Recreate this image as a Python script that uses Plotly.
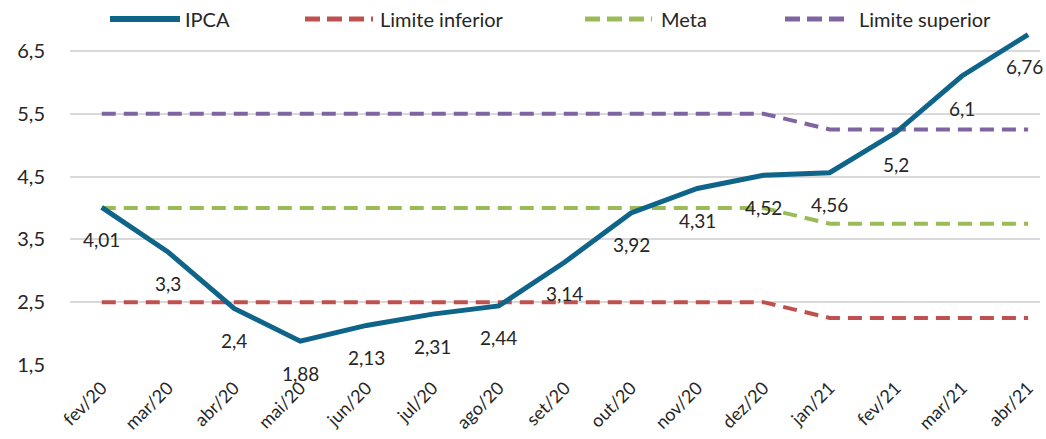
import plotly.graph_objects as go

meses = ["fev/20", "mar/20", "abr/20", "mai/20", "jun/20", "jul/20", "ago/20",
         "set/20", "out/20", "nov/20", "dez/20", "jan/21", "fev/21", "mar/21", "abr/21"]
ipca = [4.01, 3.3, 2.4, 1.88, 2.13, 2.31, 2.44, 3.14, 3.92, 4.31, 4.52, 4.56, 5.2, 6.1, 6.76]
limite_inferior = [2.5] * 11 + [2.25] * 4
meta = [4.0] * 11 + [3.75] * 4
limite_superior = [5.5] * 11 + [5.25] * 4

FONT = "Lato, 'Open Sans', sans-serif"
TXT = "#262626"
FS = 20
DASH = "14px,8px"
x_idx = list(range(len(meses)))

series = [
    ("IPCA", ipca, "#0E6489", 5, "solid"),
    ("Limite inferior", limite_inferior, "#C0504D", 4, DASH),
    ("Meta", meta, "#9BBB59", 4, DASH),
    ("Limite superior", limite_superior, "#8064A2", 4, DASH),
]

fig = go.Figure()
# dashed reference bands first, IPCA drawn on top
for name, vals, color, w, dash in series[1:] + series[:1]:
    fig.add_trace(go.Scatter(x=x_idx, y=vals, name=name, mode="lines",
                             line=dict(color=color, width=w, dash=dash),
                             cliponaxis=False, showlegend=False))

# value labels under each IPCA point
for i, v in zip(x_idx, ipca):
    fig.add_annotation(x=i, y=v, text=f"{v:g}".replace(".", ","), showarrow=False,
                       yshift=-32, xanchor="center", yanchor="middle",
                       xshift=-4 if i == len(ipca) - 1 else 0,
                       font=dict(family=FONT, size=19, color=TXT))

# legend row across the top (pixel positions converted to paper units)
L, W, T, H = 70, 970, 27, 338
def px(x):
    return (x - L) / W
leg_y = 1 + (T - 19) / H
leg_items = [(110, 180, 183), (305, 373, 378), (585, 652, 659), (785, 850, 857)]
for (name, _, color, w, dash), (x0, x1, xt) in zip(series, leg_items):
    fig.add_shape(type="line", xref="paper", yref="paper", x0=px(x0), x1=px(x1),
                  y0=leg_y, y1=leg_y,
                  line=dict(color=color, width=w + 1, dash="solid" if dash == "solid" else "15px,7px"))
    fig.add_annotation(xref="paper", yref="paper", x=px(xt), y=leg_y, text=name,
                       showarrow=False, xanchor="left", yanchor="middle",
                       font=dict(family=FONT, size=FS, color=TXT))

fig.update_layout(
    width=1046, height=439,
    margin=dict(l=L, r=6, t=T, b=74),
    plot_bgcolor="white", paper_bgcolor="white",
    separators=",.",
    showlegend=False,
    font=dict(family=FONT, size=FS, color=TXT),
)
fig.update_xaxes(range=[-0.48, 14.18], tickmode="array", tickvals=x_idx, ticktext=meses,
                 tickangle=-45, showgrid=False, showline=False, zeroline=False, ticks="",
                 ticklabelstandoff=8, automargin=False,
                 tickfont=dict(family=FONT, size=18, color=TXT))
fig.update_yaxes(range=[1.5, 6.88], tickmode="array", tickvals=[1.5, 2.5, 3.5, 4.5, 5.5, 6.5],
                 tickformat=".1f", showgrid=True, gridcolor="#D9D9D9", gridwidth=2,
                 zeroline=False, showline=False, ticks="", ticklabelstandoff=24,
                 automargin=False,
                 tickfont=dict(family=FONT, size=FS, color=TXT))

fig.write_html("out.html")
